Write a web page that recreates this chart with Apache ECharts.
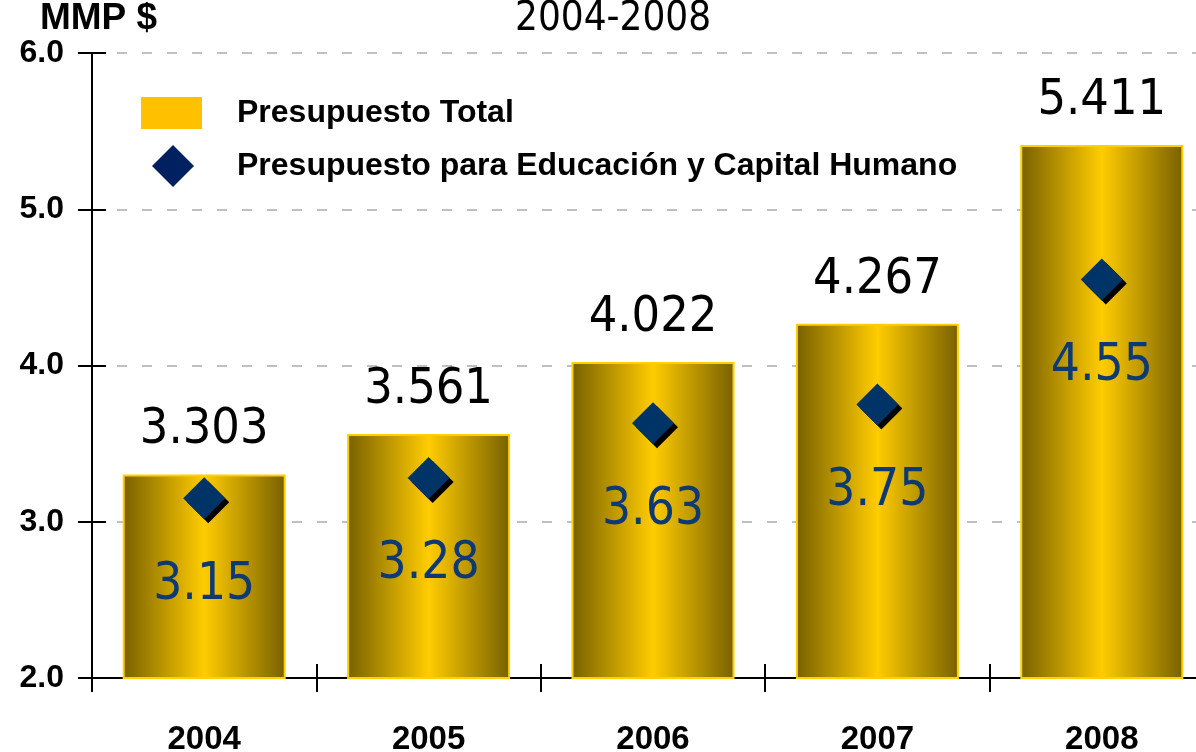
<!DOCTYPE html>
<html>
<head>
    <meta charset="utf-8">
    <title>Presupuesto 2004-2008</title>
    <script src="https://cdn.jsdelivr.net/npm/echarts@6/dist/echarts.min.js"></script>
</head>
<body style="margin:0">
    <div id="main" style="width: 1196px;height:752px;"></div>
    <script type="text/javascript">
        // datos
        var years = ['2004', '2005', '2006', '2007', '2008'];
        var total = [3.303, 3.561, 4.022, 4.267, 5.411];
        var education = [3.15, 3.28, 3.63, 3.75, 4.55];
        var yMin = 2, yMax = 6, yStep = 1;

        var narrow = '"Liberation Sans Narrow", "DejaVu Sans Condensed", "Arial Narrow", sans-serif';
        var bold = '"Liberation Sans", Arial, sans-serif';

        var myChart = echarts.init(document.getElementById('main'));

        var barFill = new echarts.graphic.LinearGradient(0, 0, 1, 0, [
            { offset: 0, color: '#786000' },
            { offset: 0.5, color: '#ffcc00' },
            { offset: 1, color: '#786000' }
        ]);

        var option = {
            animation: false,
            title: {
                text: '2004-2008',
                left: 510,
                top: -5,
                textStyle: { fontFamily: narrow, fontWeight: 'normal', fontSize: 40, color: '#000' }
            },
            legend: [{
                data: [{ name: 'Presupuesto Total', icon: 'rect', itemStyle: { color: '#ffc000', borderWidth: 0 } }],
                left: 136,
                top: 92,
                itemWidth: 61,
                itemHeight: 32,
                textStyle: { fontFamily: bold, fontWeight: 'bold', fontSize: 32, color: '#000', padding: [0, 0, 0, 30] }
            }, {
                data: [{
                    name: 'Presupuesto para Educación y Capital Humano', icon: 'diamond',
                    itemStyle: { color: '#002060', shadowColor: 'transparent', shadowOffsetX: 0, shadowOffsetY: 0 }
                }],
                left: 147,
                top: 140,
                itemWidth: 42,
                itemHeight: 42,
                textStyle: { fontFamily: bold, fontWeight: 'bold', fontSize: 32, color: '#000', padding: [0, 0, 0, 38] }
            }],
            grid: {
                left: 92,
                top: 53,
                right: -18,
                bottom: 74,
                outerBoundsMode: 'none',
                containLabel: false
            },
            xAxis: [{
                type: 'category',
                data: years,
                axisLine: { lineStyle: { color: '#000', width: 2 } },
                axisTick: { show: true, inside: false, length: 14, lineStyle: { color: '#000', width: 2 } },
                axisLabel: { fontFamily: bold, fontWeight: 'bold', fontSize: 33, color: '#000', margin: 45 }
            }, {
                type: 'category',
                data: years,
                position: 'bottom',
                axisLine: { show: false },
                axisTick: { show: true, inside: true, length: 14, lineStyle: { color: '#000', width: 2 } },
                axisLabel: { show: false }
            }],
            yAxis: [{
                type: 'value',
                min: yMin,
                max: yMax,
                interval: yStep,
                name: 'MMP $',
                nameLocation: 'end',
                nameGap: 9,
                nameTextStyle: {
                    fontFamily: bold, fontWeight: 'bold', fontSize: 37, color: '#000',
                    align: 'center', padding: [0, 0, 0, 13]
                },
                axisLine: { show: true, lineStyle: { color: '#000', width: 2 } },
                axisTick: { show: true, inside: false, length: 14, lineStyle: { color: '#000', width: 2 } },
                axisLabel: {
                    fontFamily: bold, fontWeight: 'bold', fontSize: 32, color: '#000', margin: 28,
                    formatter: function (v) { return v.toFixed(1); }
                },
                splitLine: { show: true, lineStyle: { color: '#c0c0c0', width: 2, type: [10, 15] } }
            }, {
                type: 'value',
                min: yMin,
                max: yMax,
                interval: yStep,
                position: 'left',
                axisLine: { show: false },
                axisTick: { show: true, inside: true, length: 14, lineStyle: { color: '#000', width: 2 } },
                axisLabel: { show: false },
                splitLine: { show: false }
            }],
            series: [{
                name: 'Presupuesto Total',
                type: 'bar',
                data: total,
                barWidth: 163,
                itemStyle: { color: barFill, borderColor: '#ffd000', borderWidth: 2 },
                label: {
                    show: true,
                    position: 'top',
                    distance: 19,
                    fontFamily: narrow,
                    fontSize: 50,
                    color: '#000',
                    formatter: function (p) { return p.value.toFixed(3); }
                },
                z: 2
            }, {
                name: 'Presupuesto para Educación y Capital Humano',
                type: 'scatter',
                data: education,
                symbol: 'diamond',
                symbolSize: 42,
                itemStyle: {
                    color: '#003366',
                    opacity: 1,
                    shadowColor: '#000',
                    shadowBlur: 0,
                    shadowOffsetX: 4,
                    shadowOffsetY: 4
                },
                label: {
                    show: true,
                    position: 'inside',
                    offset: [0, 87],
                    fontFamily: narrow,
                    fontSize: 51,
                    color: '#0d3a72',
                    formatter: function (p) { return p.value.toFixed(2); }
                },
                z: 3
            }]
        };

        myChart.setOption(option);
    </script>
</body>
</html>
